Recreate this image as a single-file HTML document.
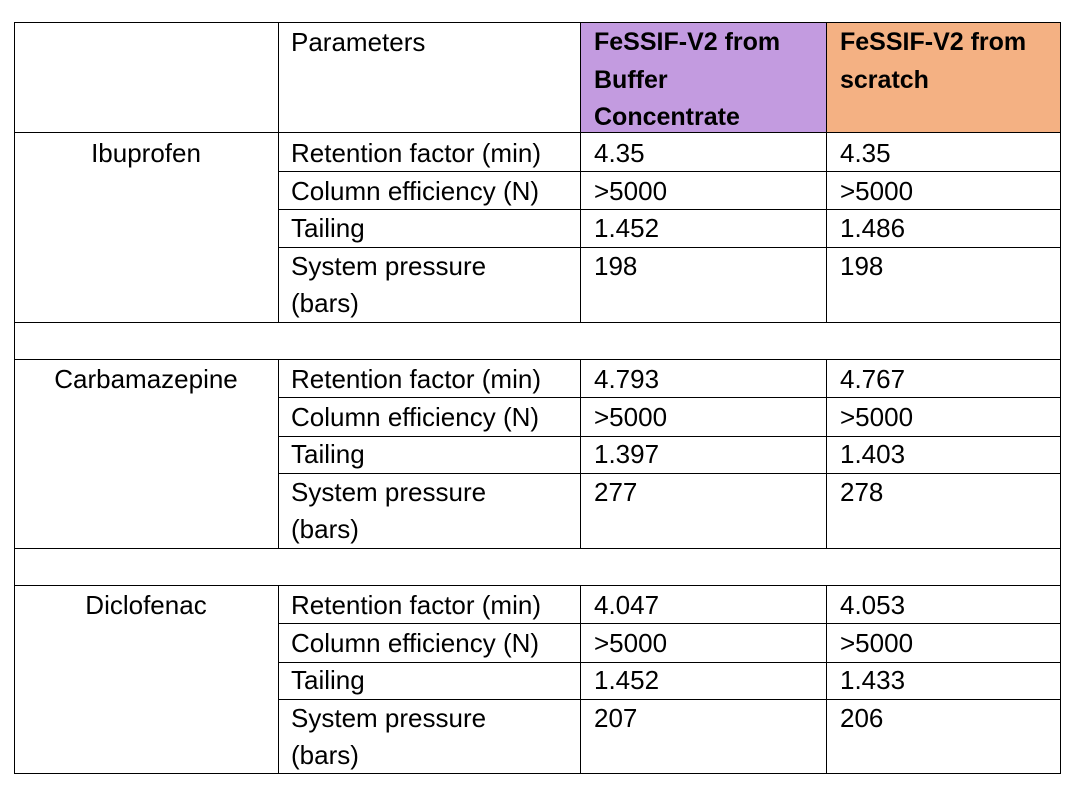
<!DOCTYPE html>
<html><head><meta charset="utf-8"><style>
body{margin:0;width:1078px;height:789px;background:#fff;position:relative;font-family:"Liberation Sans",sans-serif;font-size:26px;color:#000;overflow:hidden}
.h,.v{position:absolute;background:#000}
.h{height:1px}.v{width:1px}
.t{position:absolute;white-space:nowrap;line-height:37.5px}
.b{font-weight:bold;font-size:25px}
</style></head><body>
<div style="position:absolute;left:580px;top:22px;width:246px;height:110px;background:#c39be0"></div>
<div style="position:absolute;left:826px;top:22px;width:234px;height:110px;background:#f4b183"></div>
<div class="h" style="left:14px;width:1047px;top:22px"></div>
<div class="h" style="left:14px;width:1047px;top:132px"></div>
<div class="h" style="left:278px;width:783px;top:171px"></div>
<div class="h" style="left:278px;width:783px;top:209px"></div>
<div class="h" style="left:278px;width:783px;top:247px"></div>
<div class="h" style="left:14px;width:1047px;top:322px"></div>
<div class="h" style="left:14px;width:1047px;top:359px"></div>
<div class="h" style="left:278px;width:783px;top:397px"></div>
<div class="h" style="left:278px;width:783px;top:436px"></div>
<div class="h" style="left:278px;width:783px;top:473px"></div>
<div class="h" style="left:14px;width:1047px;top:548px"></div>
<div class="h" style="left:14px;width:1047px;top:585px"></div>
<div class="h" style="left:278px;width:783px;top:623px"></div>
<div class="h" style="left:278px;width:783px;top:662px"></div>
<div class="h" style="left:278px;width:783px;top:699px"></div>
<div class="h" style="left:14px;width:1047px;top:773px"></div>
<div class="v" style="left:14px;top:22px;height:752px"></div>
<div class="v" style="left:1060px;top:22px;height:752px"></div>
<div class="v" style="left:278px;top:22px;height:300px"></div>
<div class="v" style="left:580px;top:22px;height:300px"></div>
<div class="v" style="left:826px;top:22px;height:300px"></div>
<div class="v" style="left:278px;top:359px;height:189px"></div>
<div class="v" style="left:580px;top:359px;height:189px"></div>
<div class="v" style="left:826px;top:359px;height:189px"></div>
<div class="v" style="left:278px;top:585px;height:189px"></div>
<div class="v" style="left:580px;top:585px;height:189px"></div>
<div class="v" style="left:826px;top:585px;height:189px"></div>
<div class="t" style="left:291px;top:24px">Parameters</div>
<div class="t b" style="left:594px;top:24px">FeSSIF-V2 from<br>Buffer<br>Concentrate</div>
<div class="t b" style="left:840px;top:24px">FeSSIF-V2 from<br>scratch</div>
<div class="t" style="left:14px;width:264px;text-align:center;top:135px">Ibuprofen</div>
<div class="t" style="left:291px;top:135px">Retention factor (min)<br>Column efficiency (N)<br>Tailing<br>System pressure<br>(bars)</div>
<div class="t" style="left:594px;top:135px">4.35<br>&gt;5000<br>1.452<br>198</div>
<div class="t" style="left:840px;top:135px">4.35<br>&gt;5000<br>1.486<br>198</div>
<div class="t" style="left:14px;width:264px;text-align:center;top:361px">Carbamazepine</div>
<div class="t" style="left:291px;top:361px">Retention factor (min)<br>Column efficiency (N)<br>Tailing<br>System pressure<br>(bars)</div>
<div class="t" style="left:594px;top:361px">4.793<br>&gt;5000<br>1.397<br>277</div>
<div class="t" style="left:840px;top:361px">4.767<br>&gt;5000<br>1.403<br>278</div>
<div class="t" style="left:14px;width:264px;text-align:center;top:587px">Diclofenac</div>
<div class="t" style="left:291px;top:587px">Retention factor (min)<br>Column efficiency (N)<br>Tailing<br>System pressure<br>(bars)</div>
<div class="t" style="left:594px;top:587px">4.047<br>&gt;5000<br>1.452<br>207</div>
<div class="t" style="left:840px;top:587px">4.053<br>&gt;5000<br>1.433<br>206</div>
</body></html>
